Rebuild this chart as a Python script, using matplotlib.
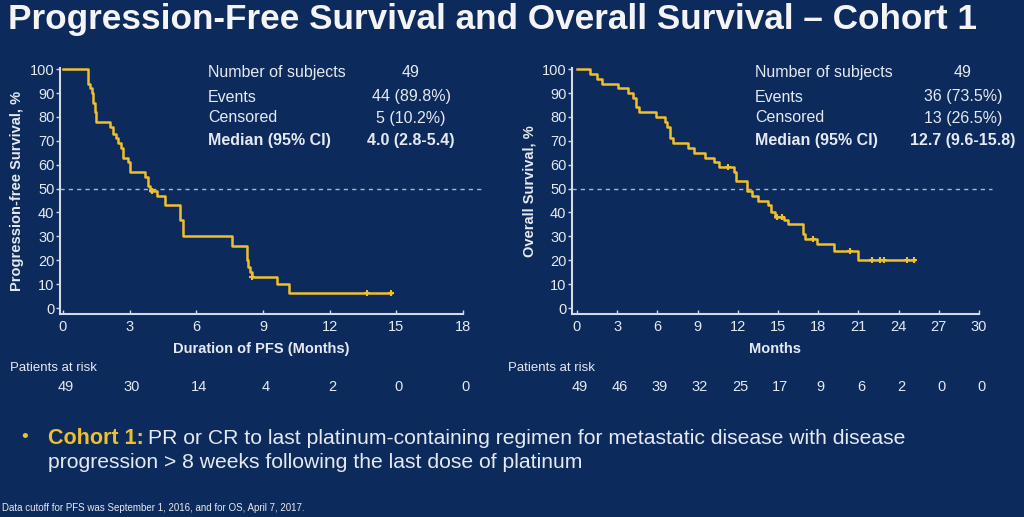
import matplotlib
matplotlib.use("Agg")
import matplotlib.pyplot as plt
from matplotlib.transforms import blended_transform_factory, offset_copy

# ---- data ----
pfs_time = [0, 1.14, 1.22, 1.29, 1.36, 1.43, 1.47, 2.12, 2.27, 2.39, 2.50, 2.60, 2.72, 2.95, 3.03,
            3.69, 3.84, 3.92, 4.22, 4.60, 5.27, 5.40, 7.60, 8.27, 8.35, 8.42, 8.52, 9.62, 10.19, 14.76]
pfs_surv = [100, 94, 92, 90, 86, 82, 78, 76, 73, 71, 69, 67, 63, 61, 57,
            55, 51, 49, 47, 43, 37, 30, 26, 20, 17, 15, 13, 10, 6.5, 6.5]
pfs_cens_t = [4.0, 8.52, 13.68, 14.76]
pfs_cens_s = [49, 13, 6.5, 6.5]

os_time = [0, 1.0, 1.5, 1.9, 3.08, 3.83, 4.2, 4.4, 4.65, 5.9, 6.57, 6.75, 6.93, 7.2, 8.26, 8.75,
           9.55, 10.25, 10.63, 11.74, 11.9, 12.7, 13.04, 13.48, 14.22, 14.48, 14.8, 15.47, 15.77,
           16.85, 17.05, 17.93, 19.17, 20.97, 25.14]
os_surv = [100, 98, 96, 94, 92, 90, 88, 84, 82, 80, 78, 76, 71, 69, 67, 65,
           63, 61, 59, 57, 53, 49, 47, 45, 43, 40, 38, 37, 35,
           31, 29, 27, 24, 20, 20]
os_cens_t = [11.25, 14.93, 15.3, 17.63, 20.4, 22.02, 22.6, 22.9, 24.6, 25.14]
os_cens_s = [59, 38, 38, 29, 24, 20, 20, 20, 20, 20]

pfs_ticks = [0, 3, 6, 9, 12, 15, 18]
pfs_risk = [49, 30, 14, 4, 2, 0, 0]
os_ticks = [0, 3, 6, 9, 12, 15, 18, 21, 24, 27, 30]
os_risk = [49, 46, 39, 32, 25, 17, 9, 6, 2, 0, 0]

pfs_stats = [("Number of subjects", "49"), ("Events", "44 (89.8%)"),
             ("Censored", "5 (10.2%)"), ("Median (95% CI)", "4.0 (2.8-5.4)")]
os_stats = [("Number of subjects", "49"), ("Events", "36 (73.5%)"),
            ("Censored", "13 (26.5%)"), ("Median (95% CI)", "12.7 (9.6-15.8)")]

BG = "#0c2b5c"
GOLD = "#f0bf2c"
FG = "#e6e9f0"
SPINE = "#d5dbe6"

plt.rcParams['font.family'] = ['Liberation Sans', 'DejaVu Sans']

W, H = 1024, 517
fig = plt.figure(figsize=(W / 100, H / 100), dpi=100, facecolor=BG)


def px(x, y):
    return x / W, 1 - y / H


def make_axes(x0, x1, y0, y1):
    ax = fig.add_axes([x0 / W, 1 - y1 / H, (x1 - x0) / W, (y1 - y0) / H])
    ax.set_facecolor(BG)
    for s in ["top", "right"]:
        ax.spines[s].set_visible(False)
    for s in ["left", "bottom"]:
        ax.spines[s].set_color(SPINE)
        ax.spines[s].set_linewidth(1.5)
    ax.tick_params(axis="y", colors=SPINE, labelcolor=FG, labelsize=10.5, length=3, width=1, pad=1)
    ax.tick_params(axis="x", colors=SPINE, labelcolor=FG, labelsize=10.5, length=3, width=1,
                   direction="in", pad=4)
    ax.set_yticks(range(0, 101, 10))
    return ax


# ---- PFS panel ----
ax1 = make_axes(60, 463, 68, 314)
ax1.set_xlim(-0.13, 18)
ax1.set_ylim(-2.5, 100.5)
ax1.set_xticks(pfs_ticks)
ax1.step(pfs_time, pfs_surv, where="post", color=GOLD, lw=1.8, clip_on=False, zorder=3)
ax1.plot(pfs_cens_t, pfs_cens_s, ls="none", marker="+", ms=5, mew=1.5, color=GOLD, zorder=4)
ax1.plot([-0.13, 18.9], [50, 50], ls=(0, (3, 3)), color="#a9b6cf", lw=1, clip_on=False)
ax1.set_ylabel("Progression-free Survival, %", color=FG, fontsize=10.5, fontweight="bold", labelpad=4)
ax1.set_xlabel("Duration of PFS (Months)", color=FG, fontsize=10.5, fontweight="bold", labelpad=6)

# ---- OS panel ----
ax2 = make_axes(572, 979, 68, 314)
ax2.set_xlim(-0.37, 30)
ax2.set_ylim(-2.5, 100.5)
ax2.set_xticks(os_ticks)
ax2.step(os_time, os_surv, where="post", color=GOLD, lw=1.8, clip_on=False, zorder=3)
ax2.plot(os_cens_t, os_cens_s, ls="none", marker="+", ms=5, mew=1.5, color=GOLD, zorder=4)
ax2.plot([-0.37, 31.0], [50, 50], ls=(0, (3, 3)), color="#a9b6cf", lw=1, clip_on=False)
ax2.set_ylabel("Overall Survival, %", color=FG, fontsize=10.5, fontweight="bold", labelpad=4)
ax2.set_xlabel("Months", color=FG, fontsize=10.5, fontweight="bold", labelpad=6)

# ---- stats tables ----
rows_y = [73, 97, 118, 141]
for (lab, val), y in zip(pfs_stats, rows_y):
    bold = "bold" if lab.startswith("Median") else "normal"
    fig.text(*px(208, y), lab, color=FG, fontsize=11.5, fontweight=bold, va="center", ha="left")
    fig.text(*px(411, y), val, color=FG, fontsize=11.5, fontweight=bold, va="center", ha="center")
for (lab, val), y in zip(os_stats, rows_y):
    bold = "bold" if lab.startswith("Median") else "normal"
    fig.text(*px(755, y), lab, color=FG, fontsize=11.5, fontweight=bold, va="center", ha="left")
    fig.text(*px(963, y), val, color=FG, fontsize=11.5, fontweight=bold, va="center", ha="center")

# ---- patients at risk ----
for ax, ticks, risk, lx in [(ax1, pfs_ticks, pfs_risk, 10), (ax2, os_ticks, os_risk, 508)]:
    fig.text(*px(lx, 368), "Patients at risk", color=FG, fontsize=9.5, va="center", ha="left")
    tr = offset_copy(blended_transform_factory(ax.transData, fig.transFigure), fig=fig,
                     x=2.5, y=0, units="dots")
    for t, n in zip(ticks, risk):
        ax.text(t, 1 - 387 / H, str(n), transform=tr, color=FG, fontsize=10.5, ha="center", va="center")

# ---- title ----
fig.text(*px(8, 20), "Progression-Free Survival and Overall Survival \u2013 Cohort 1",
         color="#f4f4f6", fontsize=25.3, fontweight="bold", va="center", ha="left")

# ---- bullet text ----
fig.text(*px(21, 437), "\u2022", color=GOLD, fontsize=14, va="center", ha="left")
t1 = fig.text(*px(48, 438), "Cohort 1:", color=GOLD, fontsize=15.5, fontweight="bold",
              va="center", ha="left")
fig.canvas.draw()
bb = t1.get_window_extent()
fig.text((bb.x1 + 4) / W, 1 - 439 / H,
         "PR or CR to last platinum-containing regimen for metastatic disease with disease",
         color=FG, fontsize=15.2, va="center", ha="left")
fig.text(*px(48, 463), "progression > 8 weeks following the last dose of platinum",
         color=FG, fontsize=15.2, va="center", ha="left")

fig.text(*px(2, 508), "Data cutoff for PFS was September 1, 2016, and for OS, April 7, 2017.",
         color=FG, fontsize=7, va="center", ha="left")

fig.savefig("out.png", dpi=100, facecolor=BG)
